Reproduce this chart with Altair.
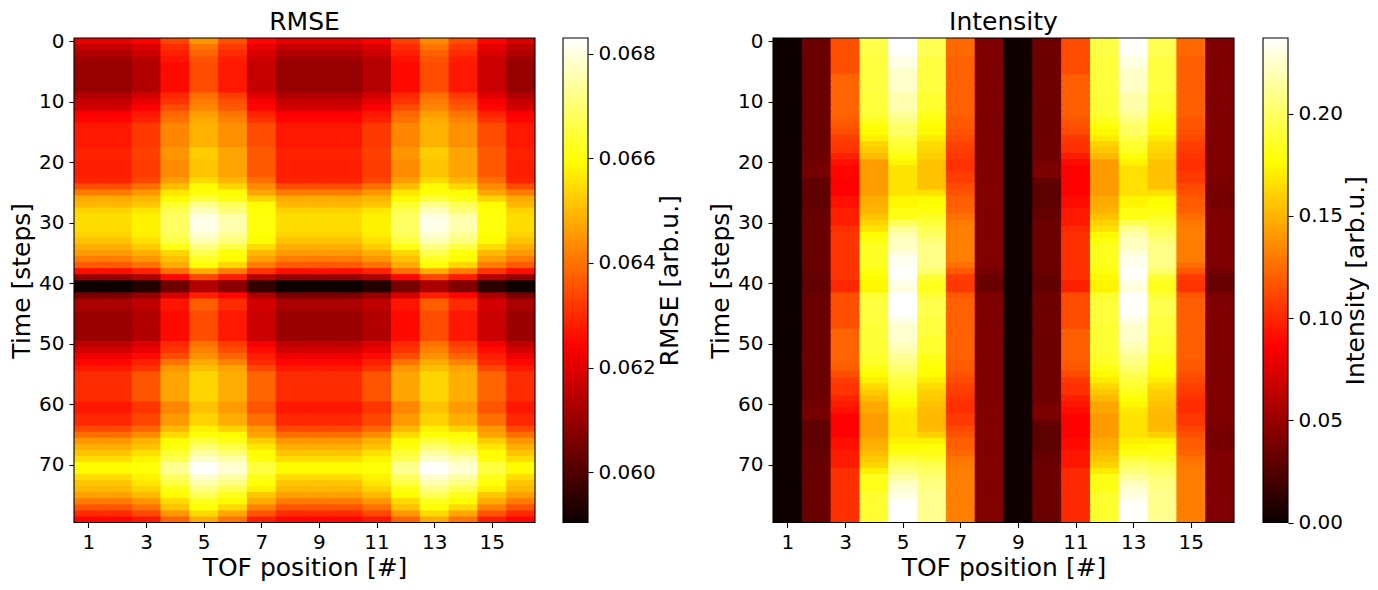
import altair as alt
import pandas as pd

# RMSE per time step (rows) and TOF position (columns), in units of 1e-5
RMSE_E5 = [
    [6210,6210,6242,6339,6450,6353,6247,6210,6210,6210,6242,6330,6432,6348,6247,6191],
    [6163,6163,6191,6302,6404,6325,6214,6163,6163,6163,6191,6302,6404,6321,6210,6154],
    [6136,6136,6173,6284,6381,6302,6191,6136,6136,6136,6173,6284,6376,6302,6191,6136],
    [6112,6112,6145,6270,6358,6284,6173,6108,6108,6108,6145,6265,6358,6284,6173,6108],
    [6098,6098,6136,6256,6348,6274,6163,6098,6098,6098,6140,6256,6348,6274,6168,6098],
    [6098,6098,6136,6256,6348,6274,6163,6098,6098,6098,6140,6256,6348,6274,6168,6098],
    [6098,6098,6136,6256,6348,6274,6163,6098,6098,6098,6140,6256,6348,6274,6168,6098],
    [6098,6098,6136,6256,6348,6274,6163,6098,6098,6098,6140,6256,6348,6274,6168,6098],
    [6098,6098,6136,6256,6348,6274,6163,6098,6098,6098,6140,6256,6348,6274,6168,6098],
    [6136,6136,6182,6298,6395,6325,6200,6136,6136,6136,6182,6298,6395,6321,6200,6136],
    [6163,6163,6210,6316,6413,6353,6237,6163,6163,6163,6210,6316,6413,6348,6237,6163],
    [6182,6182,6242,6348,6427,6367,6247,6182,6182,6182,6242,6348,6427,6367,6247,6182],
    [6237,6237,6274,6386,6460,6404,6288,6237,6237,6237,6274,6386,6460,6404,6288,6237],
    [6247,6247,6288,6399,6478,6423,6311,6247,6247,6247,6288,6399,6478,6423,6311,6247],
    [6274,6274,6321,6427,6487,6441,6348,6274,6274,6274,6321,6427,6487,6441,6348,6274],
    [6274,6274,6321,6427,6487,6441,6348,6274,6274,6274,6321,6427,6487,6441,6348,6274],
    [6274,6274,6321,6427,6487,6441,6348,6274,6274,6274,6321,6427,6487,6441,6348,6274],
    [6274,6274,6321,6427,6487,6441,6348,6274,6274,6274,6321,6427,6487,6441,6348,6274],
    [6288,6288,6330,6450,6524,6469,6367,6288,6288,6288,6330,6450,6524,6469,6367,6288],
    [6288,6288,6330,6450,6524,6469,6367,6288,6288,6288,6330,6450,6524,6469,6367,6288],
    [6284,6284,6325,6436,6515,6469,6367,6284,6284,6284,6325,6436,6515,6469,6367,6284],
    [6284,6284,6325,6436,6515,6469,6367,6284,6284,6284,6325,6436,6515,6469,6367,6284],
    [6284,6284,6325,6436,6515,6469,6367,6284,6284,6284,6325,6436,6515,6469,6367,6284],
    [6288,6288,6339,6460,6543,6497,6395,6288,6288,6288,6339,6460,6543,6497,6395,6288],
    [6348,6348,6395,6506,6589,6538,6436,6348,6348,6348,6395,6506,6589,6538,6436,6348],
    [6413,6413,6450,6561,6603,6589,6469,6413,6413,6413,6450,6561,6603,6589,6469,6413],
    [6478,6478,6497,6589,6649,6612,6534,6478,6478,6478,6497,6589,6649,6612,6534,6478],
    [6497,6497,6515,6641,6723,6677,6589,6497,6497,6497,6515,6641,6723,6677,6589,6497],
    [6534,6534,6561,6668,6765,6705,6599,6534,6534,6534,6561,6668,6765,6705,6599,6534],
    [6548,6548,6575,6686,6802,6751,6603,6548,6548,6548,6575,6686,6802,6751,6603,6548],
    [6548,6548,6580,6686,6811,6756,6603,6548,6548,6548,6580,6686,6811,6756,6603,6548],
    [6548,6548,6580,6686,6811,6756,6603,6548,6548,6548,6580,6686,6811,6756,6603,6548],
    [6534,6534,6571,6677,6788,6733,6599,6534,6534,6534,6571,6677,6788,6733,6599,6534],
    [6511,6511,6552,6659,6761,6710,6589,6511,6511,6511,6552,6659,6761,6710,6589,6511],
    [6483,6483,6524,6612,6714,6659,6548,6483,6483,6483,6524,6612,6714,6659,6548,6483],
    [6455,6455,6483,6538,6668,6603,6497,6455,6455,6455,6483,6538,6668,6603,6497,6455],
    [6413,6413,6450,6511,6631,6589,6464,6413,6413,6413,6450,6511,6631,6589,6464,6413],
    [6367,6367,6399,6478,6599,6538,6413,6367,6367,6367,6399,6478,6599,6538,6413,6367],
    [6261,6261,6288,6395,6478,6413,6311,6261,6261,6261,6288,6395,6478,6413,6311,6261],
    [6094,6094,6131,6247,6339,6279,6140,6094,6094,6094,6131,6247,6339,6279,6140,6094],
    [5909,5909,5936,6043,6136,6080,5960,5909,5909,5909,5936,6052,6126,6066,5950,5909],
    [5909,5909,5936,6043,6136,6080,5960,5909,5909,5909,5936,6052,6126,6066,5950,5909],
    [6057,6057,6094,6182,6284,6247,6126,6057,6057,6057,6094,6182,6284,6247,6126,6057],
    [6126,6126,6154,6270,6372,6302,6182,6126,6126,6126,6154,6270,6372,6302,6182,6126],
    [6126,6126,6154,6270,6372,6302,6182,6126,6126,6126,6154,6270,6372,6302,6182,6126],
    [6103,6103,6136,6256,6348,6274,6168,6103,6103,6103,6136,6256,6348,6274,6168,6103],
    [6103,6103,6136,6256,6348,6274,6168,6103,6103,6103,6136,6256,6348,6274,6168,6103],
    [6103,6103,6136,6256,6348,6274,6168,6103,6103,6103,6136,6256,6348,6274,6168,6103],
    [6103,6103,6136,6256,6348,6274,6168,6103,6103,6103,6136,6256,6348,6274,6168,6103],
    [6103,6103,6136,6256,6348,6274,6168,6103,6103,6103,6136,6256,6348,6274,6168,6103],
    [6154,6154,6191,6298,6399,6325,6228,6154,6154,6154,6191,6298,6399,6325,6228,6154],
    [6182,6182,6214,6316,6423,6348,6256,6182,6182,6182,6214,6316,6423,6348,6256,6182],
    [6223,6223,6256,6348,6441,6381,6284,6223,6223,6223,6256,6348,6441,6381,6284,6223],
    [6247,6247,6284,6404,6478,6423,6302,6247,6247,6247,6284,6404,6478,6423,6302,6247],
    [6274,6274,6311,6450,6506,6469,6339,6274,6274,6274,6311,6450,6506,6469,6339,6274],
    [6302,6302,6358,6469,6538,6483,6381,6302,6302,6302,6358,6469,6538,6483,6381,6302],
    [6302,6302,6358,6469,6538,6483,6381,6302,6302,6302,6358,6469,6538,6483,6381,6302],
    [6302,6302,6358,6469,6538,6483,6381,6302,6302,6302,6358,6469,6538,6483,6381,6302],
    [6302,6302,6358,6469,6538,6483,6381,6302,6302,6302,6358,6469,6538,6483,6381,6302],
    [6302,6302,6358,6469,6538,6483,6381,6302,6302,6302,6358,6469,6538,6483,6381,6302],
    [6274,6274,6316,6427,6511,6455,6358,6274,6274,6274,6316,6427,6511,6455,6358,6274],
    [6274,6274,6316,6427,6511,6455,6358,6274,6274,6274,6316,6427,6511,6455,6358,6274],
    [6298,6298,6339,6455,6534,6483,6395,6298,6298,6298,6339,6455,6534,6483,6395,6298],
    [6298,6298,6339,6455,6534,6483,6395,6298,6298,6298,6339,6455,6534,6483,6395,6298],
    [6339,6339,6381,6497,6575,6534,6450,6339,6339,6339,6381,6497,6575,6534,6450,6339],
    [6395,6395,6436,6543,6599,6589,6469,6395,6395,6395,6436,6543,6599,6589,6469,6395],
    [6450,6450,6487,6589,6649,6617,6524,6450,6450,6450,6487,6589,6649,6617,6524,6450],
    [6483,6483,6511,6608,6696,6659,6561,6483,6483,6483,6511,6608,6696,6659,6561,6483],
    [6515,6515,6552,6641,6742,6700,6589,6515,6515,6515,6552,6641,6742,6700,6589,6515],
    [6548,6548,6580,6668,6779,6751,6603,6548,6548,6548,6580,6668,6779,6751,6603,6548],
    [6589,6589,6599,6723,6825,6784,6649,6589,6589,6589,6599,6723,6825,6784,6649,6589],
    [6589,6589,6599,6733,6830,6793,6659,6589,6589,6589,6599,6733,6830,6793,6659,6589],
    [6548,6548,6580,6686,6788,6751,6622,6548,6548,6548,6580,6686,6788,6751,6622,6548],
    [6515,6515,6561,6659,6756,6714,6599,6515,6515,6515,6561,6659,6756,6714,6599,6515],
    [6497,6497,6534,6612,6714,6668,6575,6497,6497,6497,6534,6612,6714,6668,6575,6497],
    [6464,6464,6497,6589,6677,6622,6515,6464,6464,6464,6497,6589,6677,6622,6515,6464],
    [6413,6413,6450,6543,6622,6589,6478,6413,6413,6413,6450,6543,6622,6589,6478,6413],
    [6358,6358,6399,6511,6599,6543,6423,6358,6358,6358,6399,6511,6599,6543,6423,6358],
    [6302,6302,6339,6450,6543,6469,6358,6302,6302,6302,6339,6450,6543,6469,6358,6302],
    [6247,6247,6274,6381,6478,6404,6284,6247,6247,6247,6274,6381,6478,6404,6284,6247],
]

# intensity per time step and TOF position, in units of 1e-3
INTENSITY_E3 = [
    [1,34,115,194,237,196,124,41,2,35,113,193,236,196,123,41],
    [1,34,115,194,236,196,124,41,2,35,113,193,235,196,123,41],
    [1,34,115,194,236,196,124,41,2,35,113,193,235,196,123,41],
    [1,34,115,192,231,192,121,41,2,35,113,191,230,192,120,41],
    [1,34,115,192,231,192,121,41,2,35,113,191,230,192,120,41],
    [1,34,115,192,225,192,121,41,2,35,113,191,224,192,120,41],
    [1,34,122,192,225,192,121,41,2,35,120,191,224,192,120,41],
    [1,34,122,192,225,192,121,41,2,35,120,191,224,192,120,41],
    [1,34,122,192,225,192,121,41,2,35,120,191,224,192,120,41],
    [1,34,122,191,218,188,121,41,2,35,120,190,217,188,120,41],
    [1,34,122,191,218,188,121,41,2,35,120,190,217,188,120,41],
    [1,34,122,191,218,188,121,41,2,35,120,190,217,188,120,41],
    [1,34,122,190,213,183,121,41,2,35,120,189,212,183,120,41],
    [1,34,119,185,208,180,118,41,2,35,117,184,207,180,117,41],
    [1,34,117,179,201,176,118,41,2,35,115,178,200,176,117,41],
    [1,34,114,176,201,175,116,41,2,35,112,175,200,175,115,41],
    [1,34,108,171,194,170,113,41,2,35,106,170,193,170,112,41],
    [1,34,106,162,189,164,110,41,2,35,104,161,188,164,109,41],
    [1,34,105,158,186,162,108,41,2,35,103,157,185,162,107,41],
    [1,34,98,153,180,160,106,41,2,35,96,152,179,160,105,41],
    [1,36,92,142,174,156,104,42,2,38,90,141,173,156,103,41],
    [1,38,89,142,167,155,104,42,2,40,87,141,166,155,103,41],
    [1,38,89,142,167,155,108,42,2,40,87,141,166,155,107,41],
    [1,31,87,142,167,155,108,42,2,32,87,141,166,155,107,40],
    [1,30,87,142,167,155,113,42,2,29,87,141,166,155,112,38],
    [1,30,87,142,167,165,116,42,2,29,87,141,166,165,115,38],
    [1,30,92,147,174,175,120,42,2,29,90,146,173,175,119,38],
    [1,30,92,149,174,178,120,42,2,29,90,148,173,178,119,38],
    [1,32,97,151,182,180,122,42,2,32,95,150,181,180,121,41],
    [1,32,97,156,182,185,126,42,2,32,95,155,181,185,125,41],
    [1,33,97,162,197,190,130,42,2,34,95,161,196,190,129,41],
    [1,33,103,167,211,196,132,42,2,34,101,166,210,196,131,41],
    [1,33,105,176,218,200,132,42,2,34,103,175,217,200,131,41],
    [1,33,105,181,223,205,132,42,2,34,103,180,222,205,131,41],
    [1,33,105,185,223,209,132,42,2,34,103,184,222,209,131,41],
    [1,33,105,185,229,209,132,42,2,34,103,184,228,209,131,41],
    [1,33,105,185,234,209,132,42,2,34,103,184,233,209,131,41],
    [1,33,105,185,234,209,126,41,2,34,103,184,233,209,125,41],
    [1,33,105,181,237,203,118,38,2,34,103,180,236,203,117,38],
    [1,31,105,176,236,190,108,34,2,32,103,175,235,190,107,34],
    [1,31,100,174,231,184,106,33,2,31,98,173,230,184,105,33],
    [1,31,100,174,229,184,106,33,2,31,98,173,228,184,105,33],
    [1,33,115,189,237,190,118,41,2,35,113,188,236,190,117,41],
    [1,34,115,192,237,195,121,41,2,35,113,191,236,195,120,41],
    [1,34,115,192,237,195,121,41,2,35,113,191,236,195,120,41],
    [1,34,115,192,237,195,121,41,2,35,113,191,236,195,120,41],
    [1,34,115,192,232,192,121,41,2,35,113,191,231,192,120,41],
    [1,34,115,190,226,192,121,41,2,35,113,189,225,192,120,41],
    [1,34,122,190,226,192,121,41,2,35,120,189,225,192,120,41],
    [1,34,122,190,226,188,121,41,2,35,120,189,225,188,120,41],
    [1,34,122,190,222,188,121,41,2,35,120,189,221,188,120,41],
    [1,34,122,190,218,188,121,41,2,35,120,189,217,188,120,41],
    [1,34,122,187,212,183,121,41,2,35,120,186,211,183,120,41],
    [1,34,121,187,208,180,119,41,2,35,119,186,207,180,118,41],
    [1,34,119,182,203,178,119,41,2,35,117,181,202,178,118,41],
    [1,34,114,176,197,176,116,41,2,35,112,175,196,176,115,41],
    [1,34,108,171,192,170,113,41,2,35,106,170,191,170,112,41],
    [1,34,105,164,189,164,110,41,2,35,103,163,188,164,109,41],
    [1,34,105,158,184,160,108,41,2,35,103,157,183,160,107,41],
    [1,34,99,153,179,158,105,41,2,35,97,152,178,158,104,41],
    [1,36,96,146,175,155,103,42,2,38,94,145,174,155,102,41],
    [1,38,92,146,170,153,103,42,2,40,90,145,169,153,102,41],
    [1,38,87,142,168,152,107,42,2,40,87,141,167,152,106,41],
    [1,31,87,142,168,152,107,42,2,32,87,141,167,152,106,40],
    [1,30,87,142,168,152,112,42,2,29,87,141,167,152,111,38],
    [1,30,87,142,168,160,116,42,2,29,87,141,167,160,115,38],
    [1,30,92,147,172,172,120,42,2,29,90,146,171,172,119,38],
    [1,30,92,149,176,178,120,42,2,29,90,148,175,178,119,38],
    [1,32,96,153,182,182,123,42,2,32,94,152,181,182,122,41],
    [1,32,96,158,192,187,128,42,2,32,94,157,191,187,127,41],
    [1,33,96,162,200,195,130,42,2,34,94,161,199,195,129,41],
    [1,33,103,171,206,200,132,42,2,34,101,170,205,200,131,41],
    [1,33,103,183,214,204,132,42,2,34,101,182,213,204,131,41],
    [1,33,103,183,222,207,132,42,2,34,101,182,221,207,131,41],
    [1,33,103,183,227,209,132,42,2,34,101,182,226,209,131,41],
    [1,33,103,189,230,210,132,42,2,34,101,188,229,210,131,41],
    [1,33,103,189,235,210,132,42,2,34,101,188,234,210,131,41],
    [1,33,103,189,237,210,132,42,2,34,101,188,236,210,131,41],
    [1,33,103,189,237,210,132,42,2,34,101,188,236,210,131,41],
    [1,33,103,189,237,210,132,42,2,34,101,188,236,210,131,41],
]

TOF_TICKS = [1, 3, 5, 7, 9, 11, 13, 15]
TIME_TICKS = [0, 10, 20, 30, 40, 50, 60, 70]
RMSE_TICKS = [0.060, 0.062, 0.064, 0.066, 0.068]
INTENSITY_TICKS = [0.00, 0.05, 0.10, 0.15, 0.20]
RMSE_RANGE = [0.05904, 0.0683]
INTENSITY_RANGE = [0.0, 0.237]

# matplotlib "hot" colormap
HOT_STOPS = [0.0, 0.365, 0.746, 1.0]
HOT_COLORS = ["#0b0000", "#ff0000", "#ffff00", "#ffffff"]

PANEL_W = 461
PANEL_H = 484.5
BAR_W = 25


def long_table(rows, unit):
    # cells overlap the next ones a little, so no white seams show between them
    records = []
    for t, row in enumerate(rows):
        for i, v in enumerate(row):
            records.append({
                "tof": i + 0.5, "tof2": i + 1.55,
                "time": t - 0.5, "time2": t + 0.7,
                "value": v * unit,
            })
    return pd.DataFrame(records)


def frame():
    return alt.Chart(pd.DataFrame({"a": [0]})).mark_rect(
        fill=None, stroke="black", strokeWidth=1.1
    ).encode(
        x=alt.value(0), x2=alt.value("width"), y=alt.value(0), y2=alt.value("height")
    )


def heatmap(df, title, vrange):
    span = vrange[1] - vrange[0]
    scale = alt.Scale(
        domain=[vrange[0] + s * span for s in HOT_STOPS],
        range=HOT_COLORS,
        interpolate="rgb",
    )
    cells = alt.Chart(df).mark_rect(clip=True).encode(
        x=alt.X("tof:Q", title="TOF position [#]",
                scale=alt.Scale(domain=[0.5, 16.5], nice=False, zero=False),
                axis=alt.Axis(values=TOF_TICKS, format="d", labelAngle=0, titlePadding=3,
                              domain=False, labelFlush=False, labelOverlap=False)),
        x2="tof2:Q",
        y=alt.Y("time:Q", title="Time [steps]",
                scale=alt.Scale(domain=[79.5, -0.5], nice=False, zero=False),
                axis=alt.Axis(values=TIME_TICKS, format="d", titlePadding=4.5,
                              domain=False, labelFlush=False, labelOverlap=False)),
        y2="time2:Q",
        fill=alt.Fill("value:Q", scale=scale, legend=None),
    )
    return alt.layer(cells, frame()).properties(
        width=PANEL_W, height=PANEL_H,
        title=alt.TitleParams(title, offset=-4),
    )


def colorbar(vrange, ticks, label, fmt, title_pad):
    bar_df = pd.DataFrame({"lo": [vrange[0]], "hi": [vrange[1]]})
    gradient = alt.Gradient(
        gradient="linear",
        stops=[alt.GradientStop(offset=s, color=c) for s, c in zip(HOT_STOPS, HOT_COLORS)],
        x1=0, x2=0, y1=1, y2=0,
    )
    bar = alt.Chart(bar_df).mark_rect(color=gradient).encode(
        x=alt.value(0),
        x2=alt.value("width"),
        y=alt.Y("lo:Q", title=label,
                scale=alt.Scale(domain=vrange, nice=False, zero=False),
                axis=alt.Axis(values=ticks, orient="right", format=fmt, domain=False,
                              titleAngle=270, titlePadding=title_pad, labelFlush=False)),
        y2="hi:Q",
    )
    return alt.layer(bar, frame()).properties(width=BAR_W, height=PANEL_H)


def spacer(w):
    return alt.Chart(pd.DataFrame({"a": [0]})).mark_rect(opacity=0).encode(
        x=alt.value(0)
    ).properties(width=w, height=PANEL_H)


rmse_df = long_table(RMSE_E5, 1e-5)
intensity_df = long_table(INTENSITY_E3, 1e-3)

chart = alt.hconcat(
    heatmap(rmse_df, "RMSE", RMSE_RANGE),
    spacer(27.5),
    colorbar(RMSE_RANGE, RMSE_TICKS, "RMSE [arb.u.]", ".3f", 27),
    spacer(184.5),
    heatmap(intensity_df, "Intensity", INTENSITY_RANGE),
    spacer(29),
    colorbar(INTENSITY_RANGE, INTENSITY_TICKS, "Intensity [arb.u.]", ".2f", 26),
    spacing=0,
    bounds="flush",
).resolve_scale(
    fill="independent"
).properties(
    padding={"left": 1, "top": 2, "right": 0, "bottom": 0},
).configure_view(
    stroke=None
).configure_axis(
    labelFont="DejaVu Sans", labelFontSize=20, labelColor="black", labelPadding=5,
    titleFont="DejaVu Sans", titleFontSize=25, titleFontWeight="normal", titleColor="black",
    tickColor="black", tickSize=5, tickWidth=1.1, grid=False,
).configure_title(
    font="DejaVu Sans", fontSize=25, fontWeight="normal", color="black", anchor="middle",
)

chart.save("out.html", embed_options={"renderer": "svg", "actions": False})
